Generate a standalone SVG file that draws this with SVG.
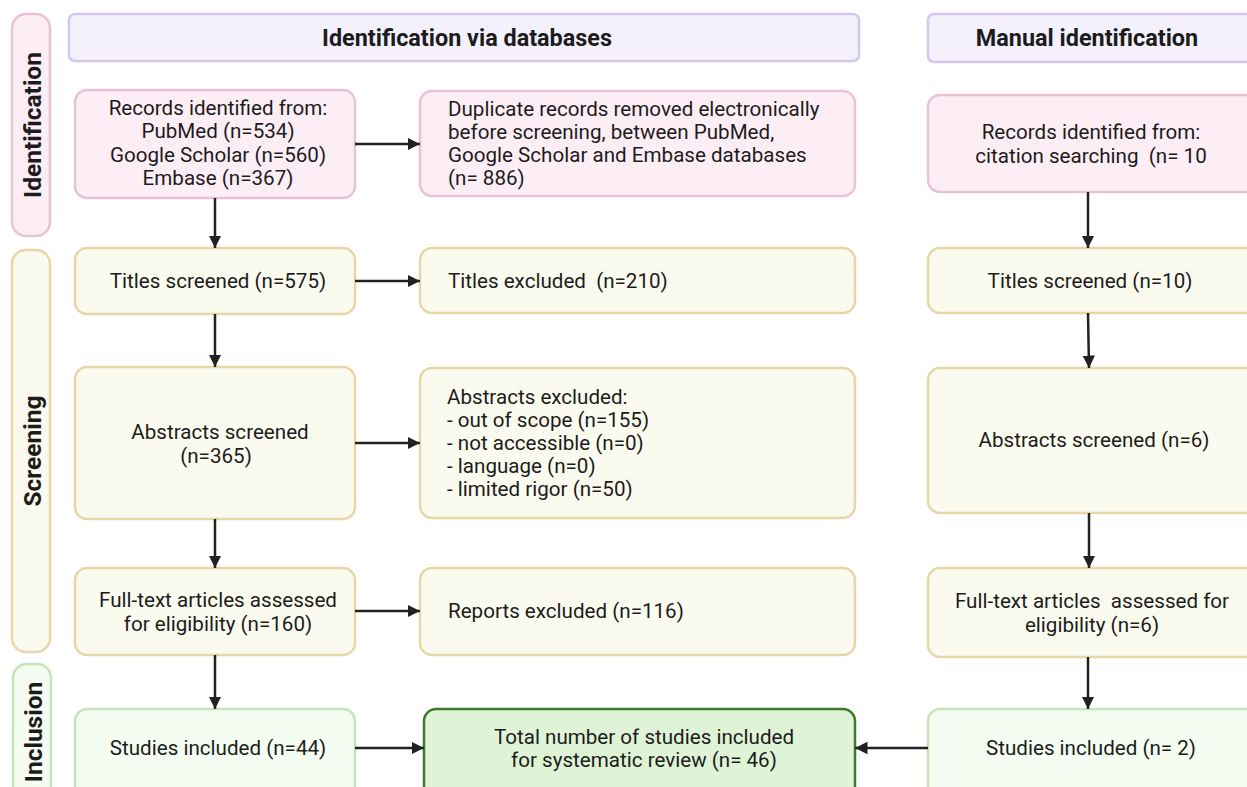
<svg xmlns="http://www.w3.org/2000/svg" width="1247" height="787" viewBox="0 0 1247 787">
<defs>
<style>
text{font-family:Roboto,"Liberation Sans",sans-serif;font-size:20.6px;fill:#1c1c1c;white-space:pre}
.h{font-weight:bold;font-size:23.4px;text-anchor:middle}
.s{font-weight:bold;font-size:24.5px;text-anchor:middle}
.c{text-anchor:middle}
.pink{fill:#fdeef6;stroke:#e9c2d6;stroke-width:2.5}
.yel{fill:#fbfaef;stroke:#e6d7a8;stroke-width:2.5}
.grn{fill:#f5fcf1;stroke:#c6e5b6;stroke-width:2.5}
.tot{fill:#dff3d7;stroke:#3e7a2d;stroke-width:2.5}
.hdr{fill:#f4f1fd;stroke:#d4c6ee;stroke-width:2.5}
.ar{stroke:#222;stroke-width:2.5;fill:none;marker-end:url(#ah)}
</style>
<marker id="ah" viewBox="0 0 10 10" refX="10" refY="5" markerWidth="5" markerHeight="5" markerUnits="strokeWidth" orient="auto">
<path d="M0,0 L10,5 L0,10 Z" fill="#222"/>
</marker>
</defs>
<rect width="1247" height="787" fill="#fff"/>

<g id="side-identification"><rect class="pink" x="12" y="14" width="38" height="222" rx="14"/><text class="s" transform="translate(41,125) rotate(-90)">Identification</text></g>
<g id="side-screening"><rect class="yel" x="12" y="250" width="38" height="402" rx="14"/><text class="s" transform="translate(41,451) rotate(-90)">Screening</text></g>
<g id="side-inclusion"><rect class="grn" x="13" y="664" width="38" height="150" rx="14"/><text class="s" transform="translate(42,732) rotate(-90)">Inclusion</text></g>

<g id="hdr-db"><rect class="hdr" x="69" y="14" width="790" height="47" rx="6"/><text class="h" x="467" y="46">Identification via databases</text></g>
<g id="hdr-manual"><rect class="hdr" x="928" y="14" width="330" height="48" rx="6"/><text class="h" x="1087" y="46">Manual identification</text></g>

<g id="db-records"><rect class="pink" x="75" y="90" width="280" height="108" rx="12"/>
<text class="c" x="218" y="115">Records identified from:</text>
<text class="c" x="218" y="138">PubMed (n=534)</text>
<text class="c" x="218" y="162">Google Scholar (n=560)</text>
<text class="c" x="218" y="185">Embase (n=367)</text></g>

<g id="duplicates"><rect class="pink" x="420" y="91" width="435" height="105" rx="12"/>
<text x="448" y="116">Duplicate records removed electronically</text>
<text x="448" y="139">before screening, between PubMed,</text>
<text x="448" y="162">Google Scholar and Embase databases</text>
<text x="448" y="185">(n= 886)</text></g>

<g id="man-records"><rect class="pink" x="928" y="95" width="330" height="97" rx="12"/>
<text class="c" x="1091" y="139">Records identified from:</text>
<text class="c" x="1091" y="163">citation searching  (n= 10</text></g>

<g id="db-titles"><rect class="yel" x="75" y="248" width="280" height="66" rx="12"/><text class="c" x="218" y="288">Titles screened (n=575)</text></g>
<g id="titles-excl"><rect class="yel" x="420" y="248" width="435" height="65" rx="12"/><text x="448" y="288">Titles excluded  (n=210)</text></g>
<g id="man-titles"><rect class="yel" x="928" y="248" width="330" height="65" rx="12"/><text class="c" x="1090" y="288">Titles screened (n=10)</text></g>

<g id="db-abstracts"><rect class="yel" x="75" y="367" width="280" height="152" rx="12"/>
<text class="c" x="220" y="439">Abstracts screened</text>
<text class="c" x="216" y="463">(n=365)</text></g>
<g id="abstracts-excl"><rect class="yel" x="420" y="368" width="435" height="150" rx="12"/>
<text x="447" y="404">Abstracts excluded:</text>
<text x="447" y="427">- out of scope (n=155)</text>
<text x="447" y="450">- not accessible (n=0)</text>
<text x="447" y="473">- language (n=0)</text>
<text x="447" y="496">- limited rigor (n=50)</text></g>
<g id="man-abstracts"><rect class="yel" x="928" y="368" width="330" height="145" rx="12"/><text class="c" x="1094" y="447">Abstracts screened (n=6)</text></g>

<g id="db-fulltext"><rect class="yel" x="75" y="568" width="280" height="87" rx="12"/>
<text class="c" x="218" y="607">Full-text articles assessed</text>
<text class="c" x="218" y="631">for eligibility (n=160)</text></g>
<g id="reports-excl"><rect class="yel" x="420" y="568" width="435" height="87" rx="12"/><text x="448" y="618">Reports excluded (n=116)</text></g>
<g id="man-fulltext"><rect class="yel" x="928" y="568" width="330" height="89" rx="12"/>
<text class="c" x="1092" y="608">Full-text articles  assessed for</text>
<text class="c" x="1092" y="632">eligibility (n=6)</text></g>

<g id="db-included"><rect class="grn" x="75" y="709" width="280" height="100" rx="12"/><text class="c" x="218" y="755">Studies included (n=44)</text></g>
<g id="total"><rect class="tot" x="424" y="709" width="431" height="100" rx="12"/>
<text class="c" x="644" y="744">Total number of studies included</text>
<text class="c" x="644" y="767">for systematic review (n= 46)</text></g>
<g id="man-included"><rect class="grn" x="928" y="709" width="330" height="100" rx="12"/><text class="c" x="1091" y="755">Studies included (n= 2)</text></g>

<g id="connectors">
<line class="ar" x1="215" y1="198" x2="215" y2="248"/>
<line class="ar" x1="215" y1="314" x2="215" y2="367"/>
<line class="ar" x1="215" y1="519" x2="215" y2="568"/>
<line class="ar" x1="215" y1="655" x2="215" y2="709"/>
<line class="ar" x1="355" y1="144" x2="420" y2="144"/>
<line class="ar" x1="355" y1="281" x2="420" y2="281"/>
<line class="ar" x1="355" y1="443" x2="420" y2="443"/>
<line class="ar" x1="355" y1="611" x2="420" y2="611"/>
<line class="ar" x1="355" y1="748" x2="424" y2="748"/>
<line class="ar" x1="1088" y1="192" x2="1088" y2="248"/>
<line class="ar" x1="1088" y1="313" x2="1089" y2="368"/>
<line class="ar" x1="1089" y1="513" x2="1089" y2="568"/>
<line class="ar" x1="1088" y1="657" x2="1088" y2="709"/>
<line class="ar" x1="928" y1="748" x2="855" y2="748"/>
</g>
</svg>
